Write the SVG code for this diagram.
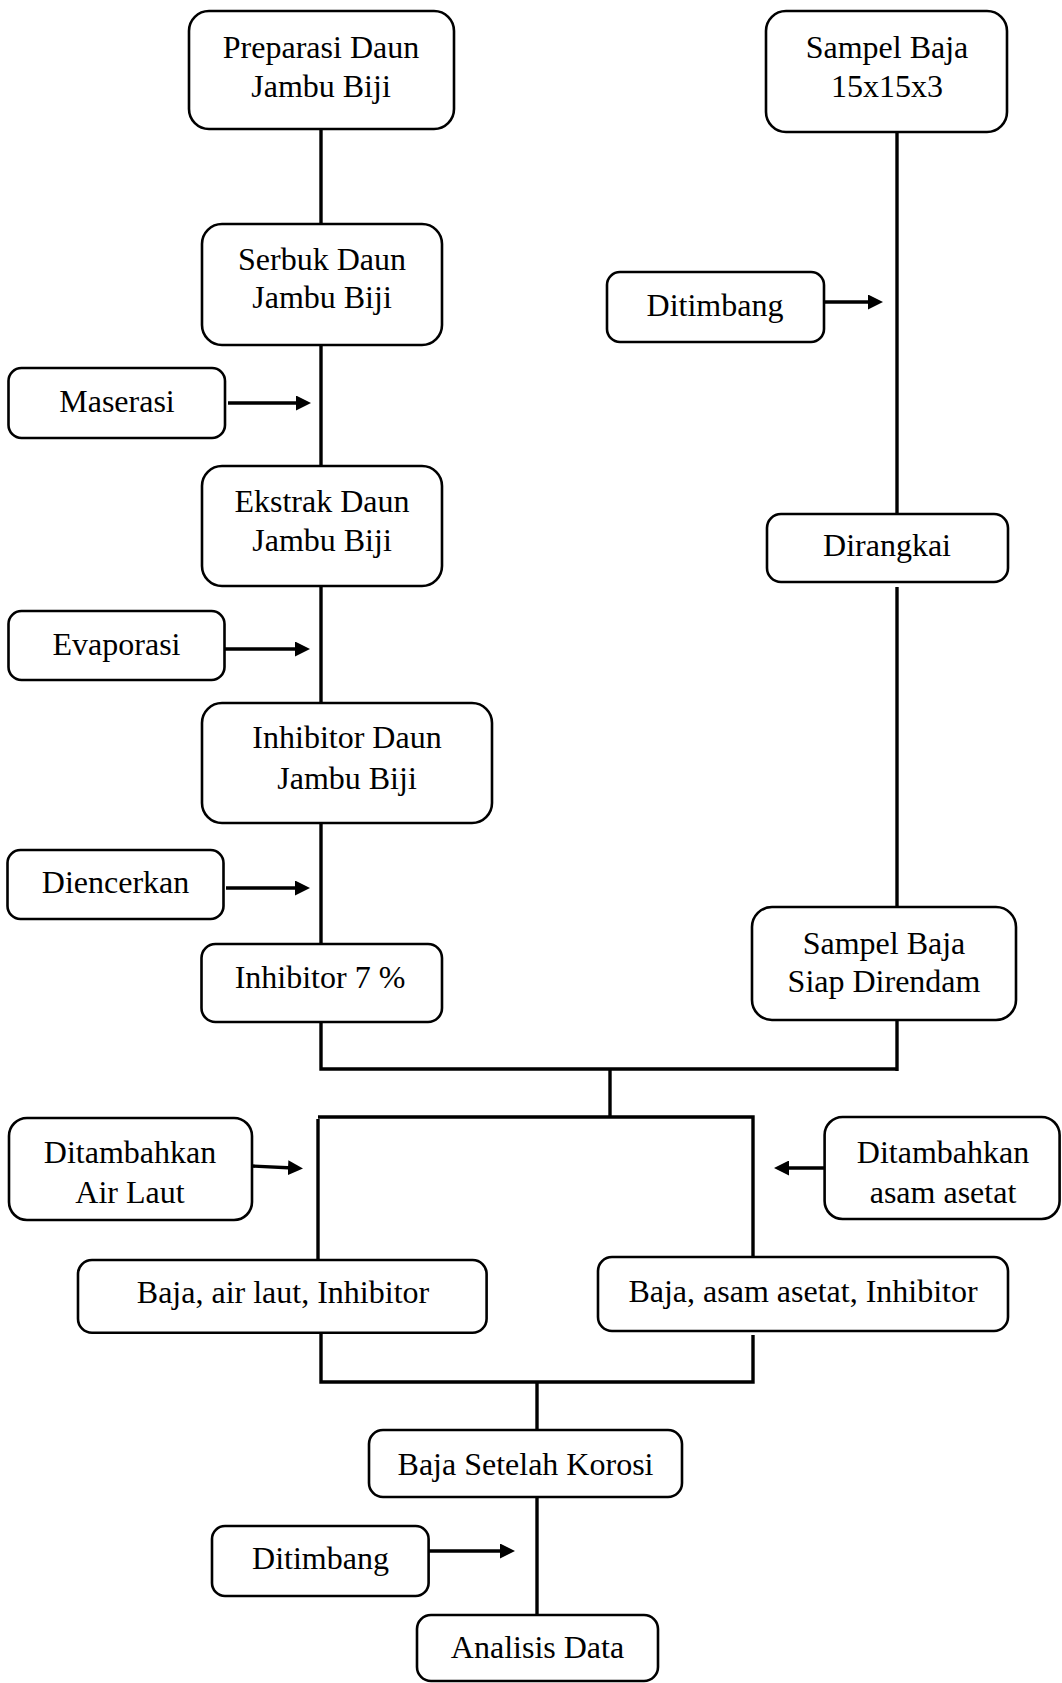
<svg xmlns="http://www.w3.org/2000/svg" width="1062" height="1683" viewBox="0 0 1062 1683">
<defs>
<style>
.box{fill:#fff;stroke:#000;stroke-width:2.6}
.t{font-family:"Liberation Serif","Times New Roman",serif;font-size:32px;fill:#000;text-anchor:middle}
.ln{fill:none;stroke:#000;stroke-width:3.4}
.ar{fill:none;stroke:#000;stroke-width:3.4;marker-end:url(#ah)}
</style>
<marker id="ah" viewBox="0 0 15 15" refX="5" refY="7.5" markerWidth="15" markerHeight="15" markerUnits="userSpaceOnUse" orient="auto">
<path d="M0,0 L15,7.5 L0,15 z" fill="#000"/>
</marker>
</defs>
<rect width="1062" height="1683" fill="#fff"/>
<g id="connectors">
<path class="ln" d="M321,129 V224"/>
<path class="ln" d="M321,345 V466"/>
<path class="ln" d="M321,586 V703"/>
<path class="ln" d="M321,823 V944"/>
<path class="ln" d="M321,1022 V1069 H897"/>
<path class="ln" d="M897,132 V514"/>
<path class="ln" d="M897,587 V907"/>
<path class="ln" d="M897,1020 V1071"/>
<path class="ln" d="M610,1069 V1118"/>
<path class="ln" d="M318,1117 H753 V1257"/>
<path class="ln" d="M318,1119 V1260"/>
<path class="ln" d="M321,1333 V1382 H753 V1335"/>
<path class="ln" d="M537,1382 V1430"/>
<path class="ln" d="M537,1497 V1615"/>
<path class="ar" d="M228,403 H301"/>
<path class="ar" d="M225,649 H300"/>
<path class="ar" d="M226,888 H300"/>
<path class="ar" d="M824,302 H873"/>
<path class="ar" d="M252,1166 L293,1168"/>
<path class="ar" d="M824,1168 H784"/>
<path class="ar" d="M429,1551 H505"/>
</g>
<g id="n-preparasi"><rect class="box" x="189" y="11" width="265" height="118" rx="20"/><text class="t" x="321" y="58">Preparasi Daun</text><text class="t" x="321" y="97">Jambu Biji</text></g>
<g id="n-sampel"><rect class="box" x="766" y="11" width="241" height="121" rx="20"/><text class="t" x="887" y="58">Sampel Baja</text><text class="t" x="887" y="97">15x15x3</text></g>
<g id="n-ditimbang1"><rect class="box" x="607" y="272" width="217" height="70" rx="13"/><text class="t" x="715" y="316">Ditimbang</text></g>
<g id="n-serbuk"><rect class="box" x="202" y="224" width="240" height="121" rx="20"/><text class="t" x="322" y="270">Serbuk Daun</text><text class="t" x="322" y="308">Jambu Biji</text></g>
<g id="n-maserasi"><rect class="box" x="8.5" y="368" width="216.5" height="70" rx="13"/><text class="t" x="117" y="412">Maserasi</text></g>
<g id="n-ekstrak"><rect class="box" x="202" y="466" width="240" height="120" rx="20"/><text class="t" x="322" y="512">Ekstrak Daun</text><text class="t" x="322" y="551">Jambu Biji</text></g>
<g id="n-dirangkai"><rect class="box" x="767" y="514" width="241" height="68" rx="14"/><text class="t" x="887" y="556">Dirangkai</text></g>
<g id="n-evaporasi"><rect class="box" x="8.5" y="611" width="216" height="69" rx="13"/><text class="t" x="116.5" y="655">Evaporasi</text></g>
<g id="n-inhibitor-daun"><rect class="box" x="202" y="703" width="290" height="120" rx="20"/><text class="t" x="347" y="748">Inhibitor Daun</text><text class="t" x="347" y="789">Jambu Biji</text></g>
<g id="n-diencerkan"><rect class="box" x="7.5" y="850" width="216" height="69" rx="13"/><text class="t" x="115.5" y="893">Diencerkan</text></g>
<g id="n-inhibitor7"><rect class="box" x="201.5" y="944" width="240.5" height="78" rx="14"/><text class="t" x="320" y="988">Inhibitor 7 %</text></g>
<g id="n-sampel-siap"><rect class="box" x="752" y="907" width="264" height="113" rx="20"/><text class="t" x="884" y="954">Sampel Baja</text><text class="t" x="884" y="992">Siap Direndam</text></g>
<g id="n-air-laut"><rect class="box" x="9" y="1118" width="243" height="102" rx="18"/><text class="t" x="130" y="1163">Ditambahkan</text><text class="t" x="130" y="1203">Air Laut</text></g>
<g id="n-asam-asetat"><rect class="box" x="824.6" y="1117" width="235" height="102" rx="18"/><text class="t" x="943" y="1163">Ditambahkan</text><text class="t" x="943" y="1203">asam asetat</text></g>
<g id="n-baja-air-laut"><rect class="box" x="78" y="1260" width="408.6" height="72.7" rx="14"/><text class="t" x="283" y="1303">Baja, air laut, Inhibitor</text></g>
<g id="n-baja-asam"><rect class="box" x="598" y="1257" width="410" height="74" rx="14"/><text class="t" x="803" y="1302">Baja, asam asetat, Inhibitor</text></g>
<g id="n-setelah"><rect class="box" x="369" y="1430" width="313" height="67" rx="14"/><text class="t" x="525.5" y="1475">Baja Setelah Korosi</text></g>
<g id="n-ditimbang2"><rect class="box" x="212" y="1526" width="216.6" height="70" rx="13"/><text class="t" x="320.5" y="1569">Ditimbang</text></g>
<g id="n-analisis"><rect class="box" x="417" y="1615" width="241" height="66" rx="14"/><text class="t" x="537.5" y="1658">Analisis Data</text></g>
</svg>
